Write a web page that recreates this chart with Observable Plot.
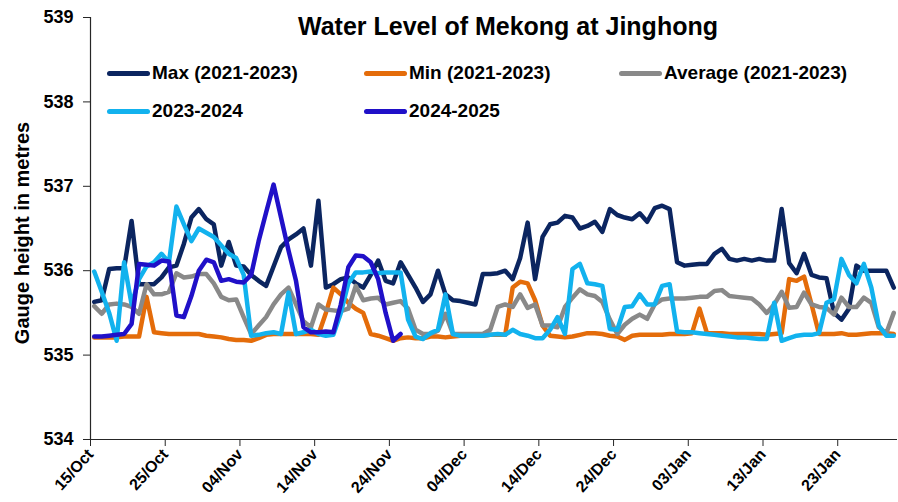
<!DOCTYPE html>
<html>
<head>
<meta charset="utf-8">
<script src="https://cdn.jsdelivr.net/npm/d3@7"></script>
<script src="https://cdn.jsdelivr.net/npm/@observablehq/plot@0.6"></script>
<style>
  body { margin: 0; background: #fff; }
  #wrap { position: relative; width: 898px; height: 502px; font-family: "Liberation Sans", Arial, sans-serif; color: #000; }
  #chart { position: absolute; left: 0; top: 0; }
  #title { position: absolute; left: 0; width: 898px; top: 11px; padding-left: 118px; box-sizing: border-box; text-align: center; font-weight: bold; font-size: 25px; line-height: 30px; }
  #ylabel { position: absolute; left: 22px; top: 233px; transform: translate(-50%, -50%) rotate(-90deg); white-space: nowrap; font-weight: bold; font-size: 20px; }
  .leg { position: absolute; display: flex; align-items: center; font-weight: bold; font-size: 19px; white-space: nowrap; height: 24px; }
  .sw { width: 43px; height: 5px; border-radius: 3px; margin-right: 2px; }
</style>
</head>
<body>
<div id="wrap">
  <div id="chart"></div>
  <div id="title"></div>
  <div id="ylabel"></div>
  <div id="legend"></div>
</div>
<script>
const titleText = "Water Level of Mekong at Jinghong";
const yLabel = "Gauge height in metres";
const startDate = "2024-10-15";
const dayCount = 108;
const tickLabels = ["15/Oct","25/Oct","04/Nov","14/Nov","24/Nov","04/Dec","14/Dec","24/Dec","03/Jan","13/Jan","23/Jan"];
const yTicks = [534, 535, 536, 537, 538, 539];
const seriesNames = ["Max (2021-2023)", "Min (2021-2023)", "Average (2021-2023)", "2023-2024", "2024-2025"];
const seriesColors = ["#0B2560", "#E46C0A", "#898989", "#12B2EE", "#2010C8"];

const maxVals = [535.63,535.65,536.02,536.03,536.03,536.59,535.84,535.84,535.84,535.92,
  536.04,536.06,536.32,536.63,536.73,536.61,536.55,536.06,536.34,536.06,
  536.05,535.95,535.88,535.82,536.05,536.28,536.37,536.43,536.50,536.06,
  536.83,535.80,535.84,535.90,535.92,535.85,535.80,535.95,536.12,535.88,
  535.85,536.10,535.95,535.80,535.63,535.72,536.00,535.72,535.65,535.64,
  535.62,535.60,535.96,535.96,535.97,536.00,535.90,536.15,536.57,535.90,
  536.40,536.55,536.57,536.65,536.63,536.50,536.53,536.58,536.46,536.73,
  536.66,536.63,536.61,536.68,536.58,536.74,536.77,536.73,536.10,536.06,
  536.07,536.08,536.08,536.20,536.26,536.14,536.12,536.14,536.12,536.14,
  536.12,536.12,536.73,536.09,535.97,536.20,535.95,535.92,535.91,535.50,
  535.42,535.55,536.06,536.00,536.00,536.00,536.00,535.80];

const minVals = [535.21,535.21,535.21,535.21,535.22,535.22,535.22,535.69,535.27,535.26,
  535.25,535.25,535.25,535.25,535.25,535.23,535.22,535.21,535.19,535.18,
  535.18,535.17,535.20,535.24,535.25,535.25,535.25,535.25,535.25,535.25,
  535.24,535.50,535.80,535.72,535.62,535.55,535.50,535.25,535.23,535.20,
  535.17,535.20,535.21,535.20,535.20,535.22,535.22,535.21,535.22,535.23,
  535.24,535.24,535.23,535.24,535.24,535.24,535.80,535.87,535.85,535.65,
  535.35,535.23,535.22,535.21,535.22,535.24,535.26,535.26,535.25,535.23,
  535.22,535.18,535.23,535.24,535.24,535.24,535.24,535.25,535.25,535.25,
  535.26,535.55,535.26,535.26,535.26,535.25,535.25,535.25,535.25,535.25,
  535.24,535.25,535.26,535.90,535.88,535.93,535.60,535.25,535.25,535.25,
  535.26,535.24,535.24,535.25,535.26,535.26,535.26,535.25];

const avgVals = [535.58,535.49,535.60,535.61,535.60,535.57,535.49,535.84,535.72,535.72,
  535.75,535.97,535.92,535.93,535.96,535.96,535.85,535.69,535.65,535.66,
  535.45,535.25,535.35,535.45,535.60,535.72,535.80,535.60,535.40,535.33,
  535.60,535.54,535.53,535.52,535.55,535.82,535.65,535.67,535.68,535.60,
  535.62,535.64,535.55,535.30,535.25,535.25,535.29,535.49,535.25,535.25,
  535.25,535.25,535.25,535.30,535.57,535.60,535.57,535.72,535.56,535.60,
  535.35,535.35,535.33,535.57,535.68,535.78,535.72,535.70,535.63,535.42,
  535.25,535.36,535.43,535.48,535.43,535.60,535.66,535.67,535.67,535.67,
  535.68,535.69,535.69,535.76,535.77,535.70,535.69,535.68,535.67,535.60,
  535.50,535.60,535.75,535.56,535.57,535.74,535.60,535.57,535.56,535.48,
  535.68,535.57,535.57,535.68,535.62,535.33,535.26,535.50];

const vals2324 = [535.99,535.75,535.50,535.17,536.10,535.60,535.90,536.05,536.10,536.20,
  536.10,536.76,536.55,536.35,536.50,536.45,536.40,536.30,536.20,536.15,
  535.95,535.23,535.24,535.26,535.27,535.25,535.74,535.25,535.27,535.30,
  535.25,535.23,535.24,535.50,535.85,535.98,535.98,535.99,535.97,535.98,
  535.98,535.98,535.42,535.22,535.19,535.26,535.30,535.72,535.25,535.23,
  535.23,535.23,535.23,535.24,535.25,535.24,535.30,535.25,535.23,535.20,
  535.20,535.30,535.45,535.25,536.02,536.08,535.85,535.84,535.82,535.31,
  535.30,535.57,535.58,535.72,535.60,535.60,535.82,535.84,535.28,535.27,
  535.27,535.26,535.25,535.24,535.23,535.22,535.21,535.21,535.20,535.19,
  535.19,535.62,535.17,535.20,535.23,535.24,535.24,535.26,535.62,535.66,
  536.14,535.95,535.85,536.08,535.80,535.35,535.23,535.23];

const vals2425 = [535.22,535.22,535.23,535.24,535.25,535.37,536.08,536.07,536.06,536.12,
  536.11,535.47,535.45,535.70,536.00,536.13,536.10,535.88,535.90,535.87,
  535.86,535.95,536.35,536.69,537.02,536.63,536.24,535.88,535.33,535.27,
  535.27,535.28,535.27,535.60,536.04,536.18,536.17,536.10,535.90,535.50,
  535.17,535.25];

const allValues = [maxVals, minVals, avgVals, vals2324, vals2425];

const start = new Date(startDate + "T00:00:00Z");
const end = d3.utcDay.offset(start, dayCount);
const tickDates = tickLabels.map((_, i) => d3.utcDay.offset(start, 10 * i));
const labelFor = d => tickLabels[Math.round((d - start) / 864e5 / 10)];

const rows = [];
allValues.forEach((vals, s) => {
  vals.forEach((v, i) => {
    rows.push({ series: seriesNames[s], date: d3.utcHour.offset(d3.utcDay.offset(start, i), 12), value: v });
  });
});

const chart = Plot.plot({
  width: 898,
  height: 502,
  marginLeft: 90,
  marginRight: 1,
  marginTop: 17,
  marginBottom: 63,
  style: { fontFamily: "'Liberation Sans', Arial, sans-serif", color: "#000", background: "#fff" },
  x: { type: "utc", domain: [start, end] },
  y: { domain: [534, 539] },
  color: { domain: seriesNames, range: seriesColors },
  marks: [
    Plot.axisY({ ticks: yTicks, tickFormat: d3.format("d"), tickSize: 7, tickPadding: 10, fontSize: 18, fontWeight: "bold", label: null, stroke: "#262626" }),
    Plot.axisX({ ticks: tickDates, tickFormat: labelFor, tickSize: 7, tickPadding: 5, tickRotate: -48, fontSize: 16, fontWeight: "bold", label: null, stroke: "#262626" }),
    Plot.ruleX([start], { stroke: "#262626", strokeWidth: 1.2 }),
    Plot.ruleY([534], { stroke: "#262626", strokeWidth: 1.2 }),
    Plot.line(rows, { x: "date", y: "value", z: "series", stroke: "series", strokeWidth: 4.5, strokeLinejoin: "round", strokeLinecap: "round" })
  ]
});
document.getElementById("chart").appendChild(chart);

document.getElementById("title").textContent = titleText;
document.getElementById("ylabel").textContent = yLabel;

const legendPos = [[107, 61], [364, 61], [619, 61], [107, 99], [364, 99]];
const legend = document.getElementById("legend");
seriesNames.forEach((name, i) => {
  const item = document.createElement("div");
  item.className = "leg";
  item.style.left = legendPos[i][0] + "px";
  item.style.top = legendPos[i][1] + "px";
  const sw = document.createElement("div");
  sw.className = "sw";
  sw.style.background = seriesColors[i];
  const tx = document.createElement("span");
  tx.textContent = name;
  item.appendChild(sw);
  item.appendChild(tx);
  legend.appendChild(item);
});
</script>
</body>
</html>
